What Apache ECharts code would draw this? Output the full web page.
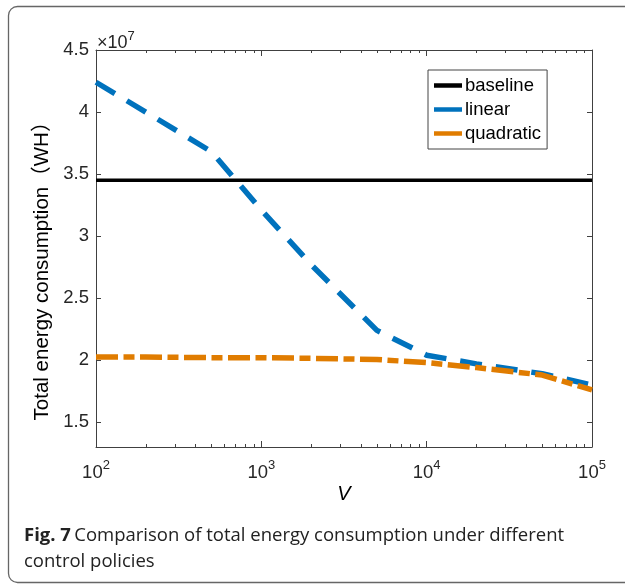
<!DOCTYPE html>
<html>
<head>
<meta charset="utf-8">
<title>Fig. 7</title>
<script src="https://cdn.jsdelivr.net/npm/echarts@6/dist/echarts.min.js"></script>
<style>
  html, body { margin: 0; padding: 0; background: #fff; }
  #main { width: 625px; height: 585px; }
</style>
</head>
<body>
<div id="main"></div>
<script>
// values, y in units of 1e7 WH
var vValues = [100, 200, 500, 1000, 2000, 5000, 10000, 20000, 50000, 100000];
var baseline = [3.45, 3.45, 3.45, 3.45, 3.45, 3.45, 3.45, 3.45, 3.45, 3.45];
var linear = [4.24, 4.00, 3.68, 3.21, 2.77, 2.24, 2.04, 1.97, 1.89, 1.80];
var quadratic = [2.025, 2.025, 2.02, 2.02, 2.015, 2.005, 1.98, 1.94, 1.88, 1.76];
var yTicks = [1.5, 2, 2.5, 3, 3.5, 4, 4.5];
var xTicks = [100, 1000, 10000, 100000];
var xMinor = [200, 300, 400, 500, 600, 700, 800, 900,
  2000, 3000, 4000, 5000, 6000, 7000, 8000, 9000,
  20000, 30000, 40000, 50000, 60000, 70000, 80000, 90000];

function pairs(ys) {
  return vValues.map(function (v, i) { return [v, ys[i]]; });
}

var font = 'Liberation Sans';
var axisGrey = '#404040';

function xAxisDef(pos, ticks, len, showLine, showLabel) {
  return {
    type: 'log', logBase: 10, min: 100, max: 100000, position: pos,
    axisLine: { show: showLine, lineStyle: { color: axisGrey, width: 1 } },
    axisTick: { show: true, inside: true, length: len, customValues: ticks,
      lineStyle: { color: axisGrey, width: 1 } },
    axisLabel: {
      show: showLabel, customValues: xTicks, margin: 9,
      formatter: function (v) {
        return '{b|10}{s|' + Math.round(Math.log10(v)) + '}';
      },
      rich: {
        b: { fontFamily: font, fontSize: 18.5, color: '#262626', padding: [7, 0, 0, 0] },
        s: { fontFamily: font, fontSize: 13, color: '#262626', padding: [0, 0, 8, 0] }
      }
    },
    splitLine: { show: false }
  };
}

function yAxisDef(pos, showLabel) {
  return {
    type: 'value', min: 1.3, max: 4.5, position: pos,
    axisLine: { show: true, lineStyle: { color: axisGrey, width: 1 } },
    axisTick: { show: true, inside: true, length: 5, customValues: yTicks,
      lineStyle: { color: axisGrey } },
    axisLabel: { show: showLabel, customValues: yTicks, margin: 7,
      fontFamily: font, fontSize: 18.5, color: '#262626' },
    splitLine: { show: false }
  };
}

var chart = echarts.init(document.getElementById('main'));
chart.setOption({
  animation: false,
  backgroundColor: '#fff',
  grid: { left: 96, top: 50, right: 33, bottom: 138 },
  xAxis: [
    xAxisDef('bottom', xTicks, 6, true, true),
    xAxisDef('bottom', xMinor, 3, false, false),
    xAxisDef('top', xTicks, 6, true, false),
    xAxisDef('top', xMinor, 3, false, false)
  ],
  yAxis: [yAxisDef('left', true), yAxisDef('right', false)],
  legend: {
    left: 428, top: 70, orient: 'vertical',
    backgroundColor: '#fff', borderColor: '#444', borderWidth: 1,
    padding: [6, 6, 6, 6], itemGap: 5, itemWidth: 28, itemHeight: 4.5,
    icon: 'rect',
    textStyle: { fontFamily: font, fontSize: 18.5, color: '#000', padding: [0, 0, 0, -2] },
    data: ['baseline', 'linear', 'quadratic']
  },
  series: [
    { name: 'baseline', type: 'line', data: pairs(baseline), showSymbol: false,
      itemStyle: { color: '#000' }, lineStyle: { color: '#000', width: 3.7 } },
    { name: 'linear', type: 'line', data: pairs(linear), showSymbol: false,
      itemStyle: { color: '#0072BD' },
      lineStyle: { color: '#0072BD', width: 5.5, type: [22, 14] } },
    { name: 'quadratic', type: 'line', data: pairs(quadratic), showSymbol: false,
      itemStyle: { color: '#E07C00' },
      lineStyle: { color: '#E07C00', width: 5.5, type: [22, 5.5, 11, 5.5] } }
  ],
  graphic: [
    { type: 'rect', shape: { x: 8.5, y: 6.5, width: 700, height: 576, r: 9 },
      style: { fill: 'none', stroke: '#666', lineWidth: 1.3 } },
    { type: 'text', x: 97, y: 27,
      style: { text: '{a|×10}{b|7}', rich: {
        a: { fontFamily: font, fontSize: 18, fill: '#262626', padding: [7, 0, 0, 0] },
        b: { fontFamily: font, fontSize: 13, fill: '#262626', padding: [0, 0, 6, 0] } } } },
    { type: 'text', x: 42, y: 266, rotation: Math.PI / 2,
      style: { text: 'Total energy consumption（WH）', fontFamily: font + ', Noto Sans CJK SC',
        fontSize: 20.5, fill: '#000', align: 'center', verticalAlign: 'middle' } },
    { type: 'text', x: 344, y: 494,
      style: { text: 'V', fontFamily: font, fontSize: 20, fontStyle: 'italic',
        fill: '#000', align: 'center', verticalAlign: 'middle' } },
    { type: 'text', x: 24, y: 523,
      style: { text: '{b|Fig. 7} {r|Comparison of total energy consumption under different}\n{r|control policies}',
        rich: {
          b: { fontFamily: 'Open Sans', fontSize: 18.5, fontWeight: 'bold', fill: '#222', lineHeight: 26 },
          r: { fontFamily: 'Open Sans', fontSize: 18.5, fill: '#222', lineHeight: 26 }
        } } }
  ]
});
</script>
</body>
</html>
